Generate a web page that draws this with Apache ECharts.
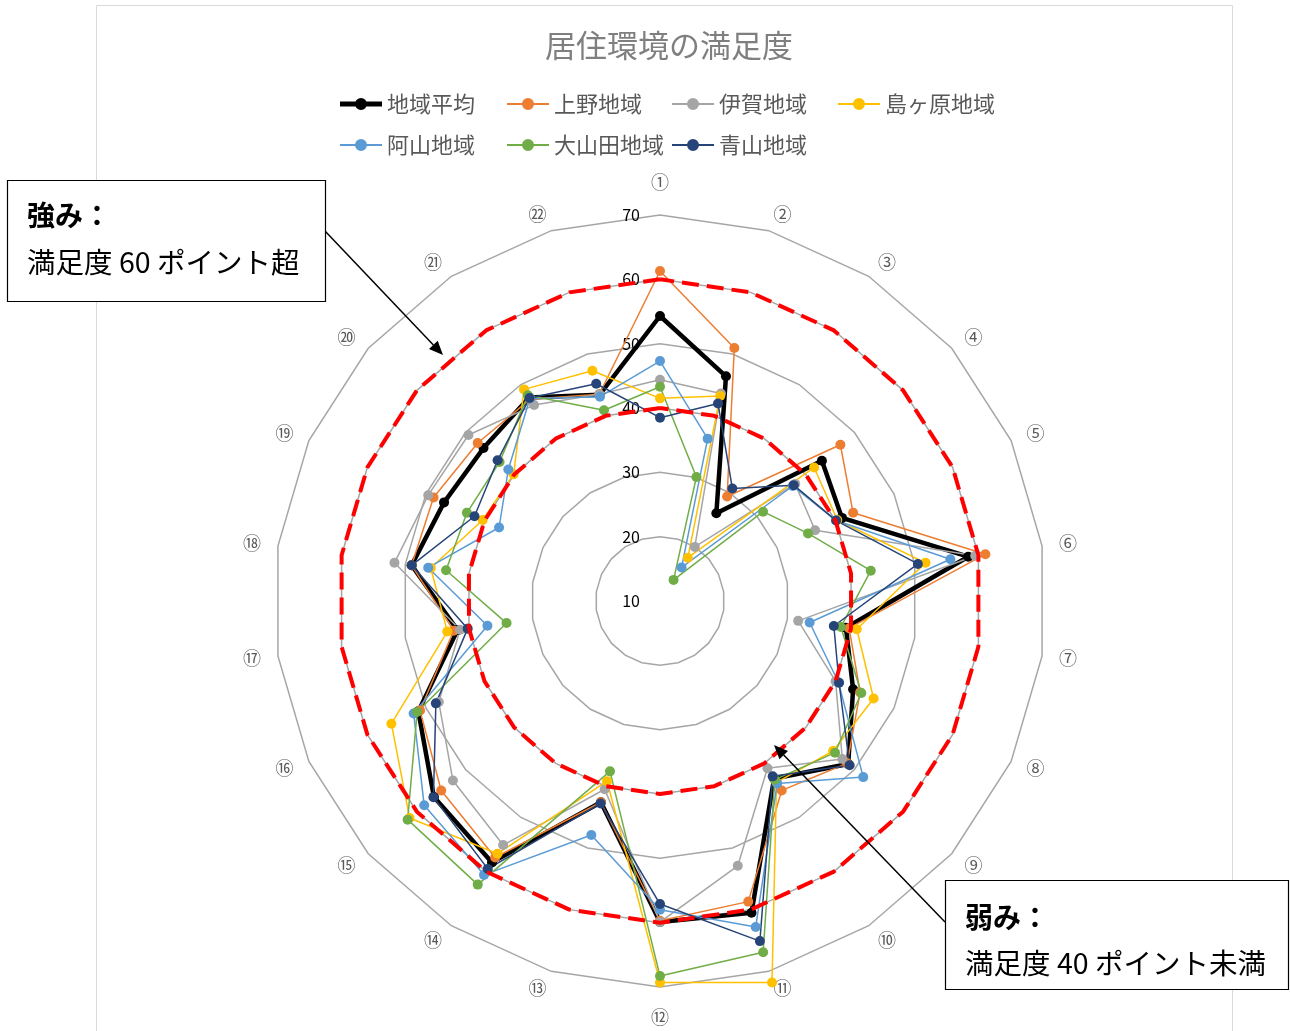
<!DOCTYPE html>
<html>
<head>
<meta charset="utf-8">
<title>居住環境の満足度</title>
<script src="https://cdn.jsdelivr.net/npm/echarts@6/dist/echarts.min.js"></script>
<style>
  html, body { margin: 0; padding: 0; background: #fff; }
  #chart { width: 1290px; height: 1031px; }
</style>
</head>
<body>
<div id="chart"></div>
<script>
// 項目 (①〜㉒)
const items = ['①', '②', '③', '④', '⑤', '⑥', '⑦', '⑧', '⑨', '⑩', '⑪',
               '⑫', '⑬', '⑭', '⑮', '⑯', '⑰', '⑱', '⑲', '⑳', '㉑', '㉒'];

// 各地域の満足度
const avgScores     = [54.3, 46.4, 26.2, 43.3, 41.1, 58.4, 39.2, 43.0, 48.7, 42.8, 60.5, 59.9, 42.6, 58.3, 56.5, 51.3, 41.8, 49.0, 46.9, 46.3, 47.6, 43.4];
const uenoScores    = [61.3, 51.0, 29.3, 47.1, 43.0, 61.1, 39.7, 44.2, 48.5, 45.0, 58.7, 59.7, 42.6, 57.4, 55.0, 51.0, 42.4, 49.0, 48.7, 47.5, 47.3, 43.5];
const igaScores     = [44.4, 43.6, 20.0, 37.8, 36.5, 59.5, 31.7, 40.0, 47.5, 40.9, 52.9, 59.9, 40.5, 55.1, 52.6, 47.8, 41.4, 51.7, 49.6, 49.4, 46.2, 43.5];
const shimaScores   = [41.5, 43.2, 18.0, 41.7, 40.3, 51.7, 40.9, 46.5, 45.6, 43.5, 71.8, 69.3, 39.2, 56.7, 61.5, 55.9, 43.4, 46.0, 40.3, 40.1, 49.1, 47.3];
const ayamaScores   = [47.3, 36.3, 16.2, 37.3, 40.1, 55.6, 33.5, 40.5, 51.8, 43.7, 62.8, 58.0, 47.9, 60.6, 58.5, 52.1, 37.1, 46.4, 37.5, 41.2, 47.4, 43.1];
const oyamadaScores = [43.3, 30.1, 13.9, 31.2, 35.3, 43.1, 38.4, 44.4, 46.0, 43.0, 66.9, 68.3, 37.6, 62.4, 61.9, 51.5, 34.1, 43.6, 43.0, 43.0, 48.0, 40.9];
const aoyamaScores  = [38.5, 42.0, 30.8, 37.5, 40.1, 50.5, 37.3, 40.6, 49.0, 42.4, 65.1, 57.1, 42.8, 59.5, 56.6, 48.3, 40.2, 49.0, 41.7, 43.4, 47.5, 45.2];

// 基準線 (60 / 40)
const line60 = [60, 60, 60, 60, 60, 60, 60, 60, 60, 60, 60, 60, 60, 60, 60, 60, 60, 60, 60, 60, 60, 60];
const line40 = [40, 40, 40, 40, 40, 40, 40, 40, 40, 40, 40, 40, 40, 40, 40, 40, 40, 40, 40, 40, 40, 40];

const axisMin = 10;
const axisMax = 70;

const FONT = '"Noto Sans CJK JP", "Noto Sans", sans-serif';

const regions = [
  { name: '地域平均',   values: avgScores,     color: '#000000', width: 4.5 },
  { name: '上野地域',   values: uenoScores,    color: '#ED7D31', width: 1.5 },
  { name: '伊賀地域',   values: igaScores,     color: '#A5A5A5', width: 1.5 },
  { name: '島ヶ原地域', values: shimaScores,   color: '#FFC000', width: 1.5 },
  { name: '阿山地域',   values: ayamaScores,   color: '#5B9BD5', width: 1.5 },
  { name: '大山田地域', values: oyamadaScores, color: '#70AD47', width: 1.5 },
  { name: '青山地域',   values: aoyamaScores,  color: '#264478', width: 1.5 }
];

// 凡例の位置 (Excel の2段組みに合わせる)
const legendPos = [[340, 93], [507, 93], [672, 93], [838, 93], [340, 134], [507, 134], [672, 134]];

// echarts のレーダーは反時計回りなので、時計回りになるよう並べ替え
const order = items.map((_, i) => (items.length - i) % items.length);
const reorder = arr => order.map(i => arr[i]);

const thinIcon  = 'path://M0,5H42V7H0Z M27,6A6,6 0 1 1 15,6A6,6 0 1 1 27,6Z';
const thickIcon = 'path://M0,3.5H42V8.5H0Z M27,6A6,6 0 1 1 15,6A6,6 0 1 1 27,6Z';

const legends = regions.map((r, i) => ({
  left: legendPos[i][0],
  top: legendPos[i][1],
  padding: 0,
  itemWidth: 42,
  itemHeight: 12,
  textStyle: { fontSize: 22, color: '#595959', fontFamily: FONT },
  data: [{ name: r.name, icon: i === 0 ? thickIcon : thinIcon }]
}));

const series = regions.map(r => ({
  type: 'radar',
  name: r.name,
  symbol: 'circle',
  symbolSize: 10,
  lineStyle: { color: r.color, width: r.width },
  itemStyle: { color: r.color },
  data: [{ name: r.name, value: reorder(r.values) }]
}));

[line60, line40].forEach((vals, k) => {
  series.push({
    type: 'radar',
    name: k === 0 ? '60ライン' : '40ライン',
    symbol: 'none',
    z: 5,
    lineStyle: { color: '#FF0000', width: 4, type: [17, 8], cap: 'butt' },
    data: [{ name: k === 0 ? '60ライン' : '40ライン', value: reorder(vals) }]
  });
});

const chart = echarts.init(document.getElementById('chart'));
chart.setOption({
  animation: false,
  backgroundColor: '#fff',
  title: {
    text: '居住環境の満足度',
    left: 664,
    textAlign: 'center',
    top: 25,
    textStyle: { fontSize: 31, fontWeight: 'normal', color: '#7f7f7f', fontFamily: FONT }
  },
  legend: legends,
  radar: {
    center: [660, 601],
    radius: 386,
    shape: 'polygon',
    splitNumber: 6,
    nameGap: 17,
    axisName: { color: '#595959', fontSize: 18, fontFamily: FONT },
    axisLine: { show: false },
    axisTick: { show: false },
    axisLabel: { show: false },
    splitArea: { show: false },
    splitLine: { lineStyle: { color: '#A6A6A6', width: 1.5 } },
    indicator: reorder(items).map((name, i) => {
      const ind = { name: name, min: axisMin, max: axisMax };
      if (i === 0) {
        ind.nameGap = 24;
        ind.axisLabel = { show: true, color: '#000', fontSize: 16, fontFamily: FONT, margin: 20 };
      }
      if (name === '⑫') {
        ind.nameGap = 21;
      }
      return ind;
    })
  },
  series: series,
  graphic: [
    {
      type: 'rect', z: 0,
      shape: { x: 96.5, y: 5.5, width: 1136, height: 1040 },
      style: { fill: 'none', stroke: '#D9D9D9', lineWidth: 1 }
    },
    // 矢印 (強み)
    {
      type: 'line', z: 50,
      shape: { x1: 325, y1: 231, x2: 433.4, y2: 344.9 },
      style: { stroke: '#000', lineWidth: 1.5 }
    },
    {
      type: 'polygon', z: 50,
      shape: { points: [[443, 355], [429, 349], [437.7, 340.7]] },
      style: { fill: '#000' }
    },
    // 矢印 (弱み)
    {
      type: 'line', z: 50,
      shape: { x1: 945, y1: 922, x2: 783.7, y2: 755.1 },
      style: { stroke: '#000', lineWidth: 1.5 }
    },
    {
      type: 'polygon', z: 50,
      shape: { points: [[774, 745], [788, 750.9], [779.4, 759.3]] },
      style: { fill: '#000' }
    },
    // 強み ボックス
    {
      type: 'rect', z: 60,
      shape: { x: 7.5, y: 180.5, width: 318, height: 121 },
      style: { fill: '#fff', stroke: '#000', lineWidth: 1.2 }
    },
    {
      type: 'text', z: 61, x: 27, y: 215,
      style: { text: '強み：', font: 'bold 28px ' + FONT, fill: '#000', verticalAlign: 'middle' }
    },
    {
      type: 'text', z: 61, x: 27, y: 262,
      style: { text: '満足度 60 ポイント超', font: '28.5px ' + FONT, fill: '#000', verticalAlign: 'middle' }
    },
    // 弱み ボックス
    {
      type: 'rect', z: 60,
      shape: { x: 945.5, y: 880.5, width: 343, height: 109 },
      style: { fill: '#fff', stroke: '#000', lineWidth: 1.2 }
    },
    {
      type: 'text', z: 61, x: 965, y: 917,
      style: { text: '弱み：', font: 'bold 28px ' + FONT, fill: '#000', verticalAlign: 'middle' }
    },
    {
      type: 'text', z: 61, x: 965, y: 963,
      style: { text: '満足度 40 ポイント未満', font: '28.5px ' + FONT, fill: '#000', verticalAlign: 'middle' }
    }
  ]
});
</script>
</body>
</html>
